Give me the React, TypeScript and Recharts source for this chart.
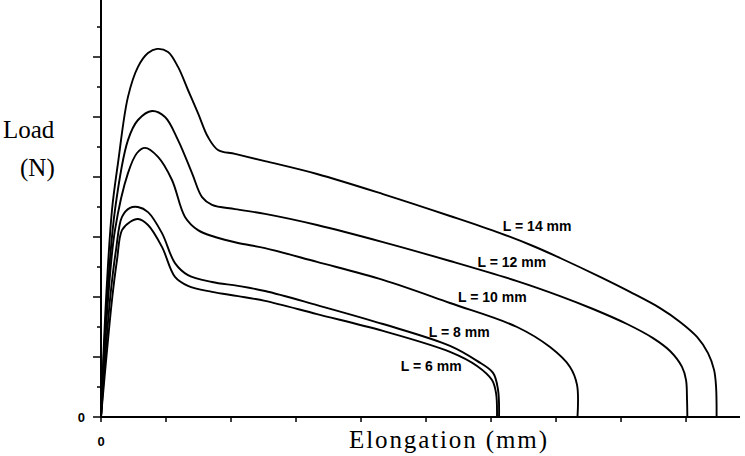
import { LineChart, Line, XAxis, YAxis, ReferenceDot } from 'recharts';

// Elongation (in x-tick units) and load (in y-tick units)
const ELONG_6 = [0, 0.169, 0.246, 0.323, 0.446, 0.569, 0.723, 0.938, 1.138, 1.338, 1.708, 2.108, 2.523, 3.323, 4.338, 5.369, 5.785, 6.015, 6.077, 6.092];
const LOAD_6 = [0, 3.9, 5.23, 6.23, 6.5, 6.6, 6.4, 5.67, 4.67, 4.37, 4.17, 4.03, 3.87, 3.43, 2.87, 2.17, 1.7, 1.23, 0.8, 0];

const ELONG_8 = [0, 0.138, 0.231, 0.323, 0.446, 0.569, 0.723, 0.938, 1.138, 1.338, 1.708, 2.108, 2.523, 3.323, 4.338, 5.369, 5.785, 6.031, 6.108, 6.123];
const LOAD_8 = [0, 3.9, 5.57, 6.67, 6.97, 7.0, 6.83, 6.13, 5.13, 4.73, 4.5, 4.37, 4.2, 3.73, 3.1, 2.37, 1.87, 1.47, 0.9, 0];

const ELONG_10 = [0, 0.108, 0.215, 0.415, 0.554, 0.677, 0.877, 1.092, 1.292, 1.492, 1.754, 2.108, 2.523, 3.323, 4.338, 5.369, 6.4, 6.908, 7.215, 7.323, 7.33];
const LOAD_10 = [0, 3.9, 6.23, 8.13, 8.8, 8.97, 8.67, 7.9, 6.67, 6.23, 6.0, 5.8, 5.63, 5.17, 4.57, 3.8, 3.0, 2.33, 1.67, 1.07, 0];

const ELONG_12 = [0, 0.092, 0.215, 0.415, 0.569, 0.785, 0.985, 1.185, 1.4, 1.554, 1.708, 2.062, 2.523, 3.323, 4.338, 5.369, 6.4, 7.062, 7.569, 8.092, 8.492, 8.754, 8.938, 9.0, 9.015, 9.02];
const LOAD_12 = [0, 3.9, 6.9, 9.23, 9.9, 10.2, 10.0, 9.23, 8.13, 7.33, 7.07, 6.93, 6.77, 6.4, 5.83, 5.2, 4.53, 4.03, 3.6, 3.1, 2.63, 2.2, 1.67, 1.23, 0.57, 0];

const ELONG_14 = [0, 0.077, 0.169, 0.262, 0.415, 0.569, 0.723, 0.862, 1.031, 1.185, 1.338, 1.492, 1.646, 1.8, 2.062, 2.523, 3.323, 4.338, 5.369, 6.138, 6.646, 7.062, 7.677, 8.138, 8.6, 8.908, 9.169, 9.338, 9.431, 9.462, 9.47];
const LOAD_14 = [0, 3.9, 6.9, 8.47, 10.67, 11.67, 12.13, 12.27, 12.17, 11.67, 10.9, 10.13, 9.33, 8.9, 8.77, 8.53, 8.1, 7.43, 6.7, 6.13, 5.7, 5.3, 4.67, 4.17, 3.63, 3.17, 2.67, 2.13, 1.57, 1.0, 0];

const SERIES = ['L = 6 mm', 'L = 8 mm', 'L = 10 mm', 'L = 12 mm', 'L = 14 mm'];
const LABEL_X = [5.08, 5.51, 6.02, 6.32, 6.71];
const LABEL_Y = [1.7, 2.83, 4.0, 5.17, 6.37];

const Y_TICKS = [0, 1, 2, 3, 4, 5, 6, 7, 8, 9, 10, 11, 12, 13];
const X_TICKS = [0, 1, 2, 3, 4, 5, 6, 7, 8, 9];

const zip = (xs: number[], ys: number[]) => xs.map((x, i) => ({ x, y: ys[i] }));
const curves = [
  zip(ELONG_6, LOAD_6),
  zip(ELONG_8, LOAD_8),
  zip(ELONG_10, LOAD_10),
  zip(ELONG_12, LOAD_12),
  zip(ELONG_14, LOAD_14),
];

const SANS = '"Liberation Sans", Arial, sans-serif';
const SERIF = '"Liberation Serif", "Times New Roman", serif';

// centripetal Catmull-Rom, so the hand-drawn curves stay smooth
function smoothCurve(context: any) {
  let pts: number[][] = [];
  return {
    areaStart() {},
    areaEnd() {},
    lineStart() {
      pts = [];
    },
    point(x: number, y: number) {
      pts.push([+x, +y]);
    },
    lineEnd() {
      if (!pts.length) return;
      context.moveTo(pts[0][0], pts[0][1]);
      for (let i = 0; i < pts.length - 1; i++) {
        const p0 = pts[i - 1] || pts[i];
        const p1 = pts[i];
        const p2 = pts[i + 1];
        const p3 = pts[i + 2] || p2;
        const d1 = Math.sqrt(Math.hypot(p1[0] - p0[0], p1[1] - p0[1]));
        const d2 = Math.sqrt(Math.hypot(p2[0] - p1[0], p2[1] - p1[1]));
        const d3 = Math.sqrt(Math.hypot(p3[0] - p2[0], p3[1] - p2[1]));
        let c1 = p1;
        let c2 = p2;
        if (d1 > 1e-6) {
          const a = 2 * d1 * d1 + 3 * d1 * d2 + d2 * d2;
          const n = 3 * d1 * (d1 + d2);
          c1 = [(p1[0] * a - p0[0] * d2 * d2 + p2[0] * d1 * d1) / n, (p1[1] * a - p0[1] * d2 * d2 + p2[1] * d1 * d1) / n];
        }
        if (d3 > 1e-6) {
          const b = 2 * d3 * d3 + 3 * d3 * d2 + d2 * d2;
          const m = 3 * d3 * (d3 + d2);
          c2 = [(p2[0] * b + p1[0] * d3 * d3 - p3[0] * d2 * d2) / m, (p2[1] * b + p1[1] * d3 * d3 - p3[1] * d2 * d2) / m];
        }
        context.bezierCurveTo(c1[0], c1[1], c2[0], c2[1], p2[0], p2[1]);
      }
    },
  };
}

function YTick({ x, y, payload }: any) {
  const long = payload.value % 2 === 0;
  return (
    <g>
      <line x1={x - (long ? 8 : 4)} x2={x} y1={y} y2={y} stroke="#000" strokeWidth={1.5} />
      {payload.value === 0 && (
        <text x={x - 16} y={y + 5} textAnchor="end" fontFamily={SANS} fontWeight="bold" fontSize={13} fill="#000">
          0
        </text>
      )}
    </g>
  );
}

function XTick({ x, y, payload }: any) {
  return (
    <g>
      <line x1={x} x2={x} y1={y} y2={y + 5} stroke="#000" strokeWidth={1.5} />
      {payload.value === 0 && (
        <text x={x} y={y + 29} textAnchor="middle" fontFamily={SANS} fontWeight="bold" fontSize={13} fill="#000">
          0
        </text>
      )}
    </g>
  );
}

export default function App() {
  return (
    <div style={{ position: 'absolute', left: 0, top: 0, width: 745, height: 456, background: '#fff' }}>
      <LineChart width={745} height={456} margin={{ top: 0, right: 5, bottom: 9, left: 0 }}>
        <XAxis
          type="number"
          dataKey="x"
          domain={[0, 9.83]}
          ticks={X_TICKS}
          allowDataOverflow
          height={30}
          tickSize={0}
          tickMargin={0}
          tickLine={false}
          tick={<XTick />}
          axisLine={{ stroke: '#000', strokeWidth: 2 }}
          label={() => (
            <text x={349} y={448} fontFamily={SERIF} fontSize={25} fill="#000" textLength={198} lengthAdjust="spacing">
              Elongation (mm)
            </text>
          )}
        />
        <YAxis
          type="number"
          dataKey="y"
          domain={[0, 13.9]}
          ticks={Y_TICKS}
          allowDataOverflow
          width={101}
          tickSize={0}
          tickMargin={0}
          tickLine={false}
          tick={<YTick />}
          axisLine={{ stroke: '#000', strokeWidth: 2 }}
          label={() => (
            <g fontFamily={SERIF} fontSize={25} fill="#000">
              <text x={3} y={138}>Load</text>
              <text x={20} y={176}>(N)</text>
            </g>
          )}
        />
        {curves.map((data, i) => (
          <Line
            key={SERIES[i]}
            data={data}
            dataKey="y"
            type={smoothCurve as any}
            stroke="#000"
            strokeWidth={1.9}
            dot={false}
            activeDot={false}
            isAnimationActive={false}
          />
        ))}
        {SERIES.map((name, i) => (
          <ReferenceDot
            key={name}
            x={LABEL_X[i]}
            y={LABEL_Y[i]}
            r={0}
            stroke="none"
            fill="none"
            label={{ value: name, position: 'center', fill: '#000', fontSize: 14, fontWeight: 'bold', fontFamily: SANS }}
          />
        ))}
      </LineChart>
    </div>
  );
}
